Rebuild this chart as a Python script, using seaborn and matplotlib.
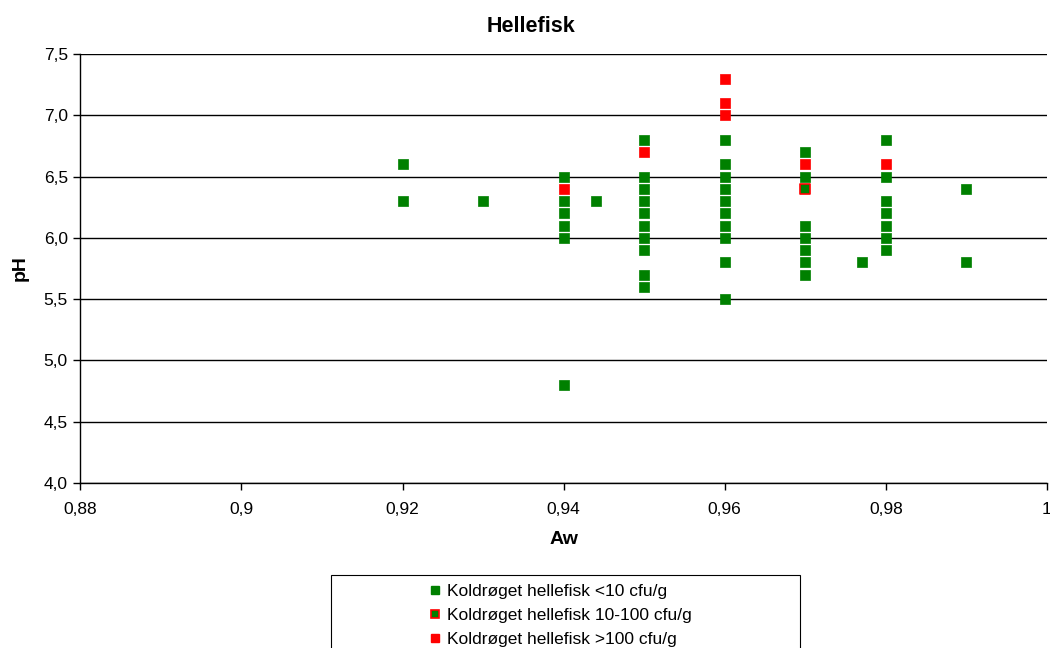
import matplotlib
matplotlib.use("Agg")
import matplotlib.pyplot as plt
import seaborn as sns
import pandas as pd
from matplotlib.lines import Line2D
from matplotlib.patches import Rectangle
from matplotlib.ticker import FixedLocator

# ---- data ----
low_aw = [0.92, 0.92, 0.93,
          0.94, 0.94, 0.94, 0.94, 0.94, 0.94,
          0.944,
          0.95, 0.95, 0.95, 0.95, 0.95, 0.95, 0.95, 0.95, 0.95, 0.95,
          0.96, 0.96, 0.96, 0.96, 0.96, 0.96, 0.96, 0.96, 0.96, 0.96,
          0.97, 0.97, 0.97, 0.97, 0.97, 0.97, 0.97,
          0.977,
          0.98, 0.98, 0.98, 0.98, 0.98, 0.98, 0.98,
          0.99, 0.99]
low_ph = [6.6, 6.3, 6.3,
          6.5, 6.3, 6.2, 6.1, 6.0, 4.8,
          6.3,
          6.8, 6.5, 6.4, 6.3, 6.2, 6.1, 6.0, 5.9, 5.7, 5.6,
          6.8, 6.6, 6.5, 6.4, 6.3, 6.2, 6.1, 6.0, 5.8, 5.5,
          6.7, 6.5, 6.1, 6.0, 5.9, 5.8, 5.7,
          5.8,
          6.8, 6.5, 6.3, 6.2, 6.1, 6.0, 5.9,
          6.4, 5.8]
mid_aw = [0.97]
mid_ph = [6.4]
high_aw = [0.94, 0.95, 0.96, 0.96, 0.96, 0.97, 0.98]
high_ph = [6.4, 6.7, 7.3, 7.1, 7.0, 6.6, 6.6]

series_names = ["Koldrøget hellefisk <10 cfu/g",
                "Koldrøget hellefisk 10-100 cfu/g",
                "Koldrøget hellefisk >100 cfu/g"]
x_ticks = [0.88, 0.90, 0.92, 0.94, 0.96, 0.98, 1.00]
x_tick_labels = ["0,88", "0,9", "0,92", "0,94", "0,96", "0,98", "1"]
y_ticks = [4.0, 4.5, 5.0, 5.5, 6.0, 6.5, 7.0, 7.5]
y_tick_labels = ["4,0", "4,5", "5,0", "5,5", "6,0", "6,5", "7,0", "7,5"]

GREEN = "#008000"
RED = "#FF0000"

sns.set_style("white")
plt.rcParams["font.family"] = ["Liberation Sans", "DejaVu Sans"]
plt.rcParams["text.color"] = "black"
plt.rcParams["axes.labelcolor"] = "black"
plt.rcParams["xtick.color"] = "black"
plt.rcParams["ytick.color"] = "black"

fig = plt.figure(figsize=(10.5, 6.48), dpi=100)
W, H = 1050, 648
ax = fig.add_axes([80.4 / W, 1 - 483 / H, (1046.9 - 80.4) / W, (483 - 54) / H])

df_low = pd.DataFrame({"Aw": low_aw, "pH": low_ph})
df_mid = pd.DataFrame({"Aw": mid_aw, "pH": mid_ph})
df_high = pd.DataFrame({"Aw": high_aw, "pH": high_ph})

ms = 44
sns.scatterplot(data=df_low, x="Aw", y="pH", ax=ax, marker="s", s=ms,
                color=GREEN, edgecolor=GREEN, linewidth=0.5, zorder=3)
sns.scatterplot(data=df_mid, x="Aw", y="pH", ax=ax, marker="s", s=ms,
                color=GREEN, edgecolor=RED, linewidth=1.2, zorder=4)
sns.scatterplot(data=df_high, x="Aw", y="pH", ax=ax, marker="s", s=ms,
                color=RED, edgecolor=RED, linewidth=0.5, zorder=5)

ax.set_xlim(0.88, 1.0)
ax.set_ylim(4.0, 7.5)
ax.xaxis.set_major_locator(FixedLocator(x_ticks))
ax.set_xticklabels(x_tick_labels, fontsize=12.5)
ax.yaxis.set_major_locator(FixedLocator(y_ticks))
ax.set_yticklabels(y_tick_labels, fontsize=12.5)
ax.tick_params(axis="both", direction="out", length=5, width=1, color="black",
               labelcolor="black", left=True, bottom=True, pad=4)
ax.tick_params(axis="x", pad=9)

ax.grid(axis="y", color="black", linewidth=1)
ax.set_axisbelow(True)
for side in ["top", "right"]:
    ax.spines[side].set_visible(False)
for side in ["left", "bottom"]:
    ax.spines[side].set_color("black")
    ax.spines[side].set_linewidth(1)

ax.set_xlabel("Aw", fontsize=14, fontweight="bold", labelpad=10, color="black")
ax.set_ylabel("pH", fontsize=14, fontweight="bold", labelpad=11, color="black")
fig.text(531 / W, 1 - 27 / H, "Hellefisk", fontsize=15.5, fontweight="bold",
         ha="center", va="center", color="black")

# legend box
fig.patches.append(Rectangle((331 / W, 1 - 700 / H), (800 - 331) / W, (700 - 575) / H,
                             transform=fig.transFigure, facecolor="white",
                             edgecolor="black", linewidth=0.8, zorder=1))
handles = [
    Line2D([], [], marker="s", linestyle="none", markersize=6,
           markerfacecolor=GREEN, markeredgecolor=GREEN),
    Line2D([], [], marker="s", linestyle="none", markersize=6,
           markerfacecolor=GREEN, markeredgecolor=RED, markeredgewidth=1.2),
    Line2D([], [], marker="s", linestyle="none", markersize=6,
           markerfacecolor=RED, markeredgecolor=RED),
]
fig.legend(handles, series_names, loc="upper left",
           bbox_to_anchor=(416 / W, 1 - 573 / H), frameon=False,
           fontsize=12.5, handlelength=0.9, handletextpad=0.25,
           labelspacing=0.5, borderpad=0.15)

fig.savefig("out.png", dpi=100)
